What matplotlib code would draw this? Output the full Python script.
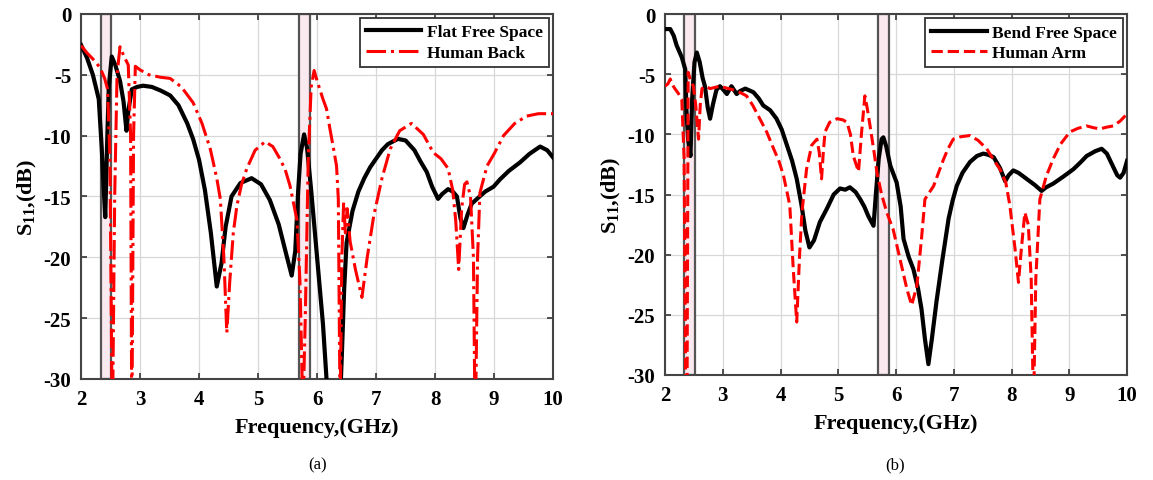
import matplotlib
matplotlib.use('Agg')
import matplotlib.pyplot as plt

plt.rcParams['font.family'] = ['Liberation Serif', 'DejaVu Serif']
plt.rcParams['mathtext.default'] = 'regular'
plt.rcParams['axes.unicode_minus'] = False

# (a) flat antenna in free space
flat_f = [2.00, 2.10, 2.20, 2.30, 2.35, 2.38, 2.41, 2.44, 2.47, 2.52, 2.58, 2.66, 2.72, 2.77, 2.80,
          2.86, 2.95, 3.05, 3.20, 3.35, 3.51, 3.65, 3.80, 3.90, 4.00, 4.10, 4.20, 4.30, 4.38, 4.45,
          4.55, 4.70, 4.89, 5.05, 5.20, 5.35, 5.48, 5.57, 5.63, 5.68, 5.72, 5.78, 5.83, 5.90, 6.00,
          6.10, 6.16, 6.22, 6.30, 6.38, 6.42, 6.46, 6.50, 6.60, 6.70, 6.80, 6.90, 7.00, 7.10, 7.20,
          7.37, 7.50, 7.65, 7.75, 7.86, 7.95, 8.05, 8.12, 8.22, 8.30, 8.37, 8.43, 8.48, 8.55, 8.62,
          8.71, 8.85, 8.99, 9.10, 9.25, 9.44, 9.60, 9.78, 9.90, 10.0]
flat_s = [-2.55, -3.6, -5.0, -7.0, -11, -14, -16.7, -11, -6, -3.5, -4.2, -5.5, -7.2, -9.6, -8,
          -6.2, -6.0, -5.9, -6.0, -6.3, -6.7, -7.5, -9.0, -10.3, -12.0, -14.5, -18.0, -22.4, -20.5, -17.5,
          -15.0, -13.9, -13.5, -14.0, -15.3, -17.3, -19.8, -21.5, -19.5, -14.5, -11.5, -9.9, -11.0, -14.5, -20.0,
          -25.5, -30, -34, -37, -33, -28.0, -22.5, -18.8, -16.2, -14.6, -13.5, -12.6, -11.9, -11.2, -10.7,
          -10.27, -10.4, -11.2, -12.1, -13.0, -14.2, -15.2, -14.8, -14.4, -14.6, -15.0, -16.8, -17.6, -16.5, -15.6,
          -15.2, -14.6, -14.2, -13.6, -12.9, -12.2, -11.5, -10.9, -11.2, -11.8]

# (a) on human back
back_f = [2.00, 2.10, 2.20, 2.32, 2.40, 2.45, 2.49, 2.53, 2.57, 2.61, 2.66, 2.72, 2.80, 2.84, 2.86,
          2.89, 2.92, 3.00, 3.15, 3.34, 3.51, 3.70, 3.90, 4.05, 4.19, 4.30, 4.36, 4.42, 4.47, 4.52,
          4.58, 4.64, 4.72, 4.81, 4.95, 5.12, 5.25, 5.37, 5.46, 5.54, 5.62, 5.66, 5.71, 5.76, 5.80,
          5.85, 5.90, 5.95, 6.00, 6.10, 6.16, 6.22, 6.28, 6.33, 6.36, 6.39, 6.42, 6.45, 6.48, 6.51,
          6.56, 6.65, 6.76, 6.85, 6.96, 7.10, 7.24, 7.40, 7.60, 7.80, 7.97, 8.10, 8.22, 8.30, 8.35,
          8.40, 8.45, 8.50, 8.54, 8.60, 8.65, 8.68, 8.72, 8.76, 8.88, 9.00, 9.16, 9.35, 9.55, 9.75, 10.0]
back_s = [-2.6, -3.2, -3.7, -4.4, -5.3, -6.2, -12, -35, -15, -5.0, -2.7, -3.4, -4.2, -10, -35,
          -10, -4.3, -4.6, -5.0, -5.2, -5.3, -6.0, -7.3, -9.0, -11.1, -13.5, -15.2, -20, -26.2, -22,
          -18, -15.8, -14, -12.7, -11.2, -10.5, -10.9, -11.9, -12.8, -14.1, -16.0, -17.0, -22, -33, -25,
          -12, -6, -4.65, -5.5, -7.0, -7.8, -9.5, -11.1, -12.5, -15.2, -33, -20, -15.5, -18, -16.0,
          -18.7, -21, -23.3, -20, -16.6, -13.5, -11.1, -9.6, -9.0, -9.9, -11.4, -11.9, -12.7, -14.5, -17,
          -21, -16, -14, -13.8, -15, -20, -35, -20, -14.7, -12.5, -11.5, -10.0, -9.0, -8.4, -8.2, -8.2]

# (b) bent antenna in free space
bend_f = [2.00, 2.09, 2.15, 2.20, 2.29, 2.35, 2.37, 2.40, 2.44, 2.47, 2.51, 2.55, 2.60, 2.65, 2.69,
          2.74, 2.78, 2.83, 2.89, 2.95, 3.01, 3.07, 3.15, 3.24, 3.30, 3.39, 3.53, 3.62, 3.70, 3.82,
          3.93, 4.02, 4.11, 4.20, 4.28, 4.36, 4.43, 4.50, 4.58, 4.68, 4.80, 4.92, 5.03, 5.12, 5.20,
          5.30, 5.38, 5.45, 5.52, 5.61, 5.65, 5.70, 5.75, 5.78, 5.83, 5.90, 6.01, 6.08, 6.13, 6.22,
          6.30, 6.38, 6.44, 6.50, 6.56, 6.62, 6.70, 6.80, 6.91, 6.98, 7.05, 7.15, 7.28, 7.40, 7.51,
          7.60, 7.69, 7.80, 7.89, 7.95, 8.03, 8.12, 8.26, 8.40, 8.52, 8.60, 8.72, 8.90, 9.07, 9.20,
          9.30, 9.45, 9.56, 9.65, 9.76, 9.83, 9.88, 9.94, 10.0]
bend_s = [-1.25, -1.25, -1.8, -2.6, -3.6, -4.6, -8, -10.5, -11.8, -7, -4.0, -3.2, -4.0, -5.3, -6.0,
          -7.8, -8.7, -7.5, -6.3, -6.0, -6.3, -6.65, -6.0, -6.65, -6.4, -6.2, -6.5, -7.0, -7.6, -8.0,
          -8.7, -9.6, -10.9, -12.2, -13.7, -15.8, -18.0, -19.4, -18.8, -17.3, -16.2, -15.0, -14.5, -14.6, -14.4,
          -14.8, -15.4, -16.0, -16.8, -17.6, -15, -12, -10.4, -10.25, -11, -12.6, -14.0, -16, -18.7, -20.2,
          -21.2, -22.8, -24.5, -27, -29.1, -27, -23.9, -20.5, -17.0, -15.5, -14.3, -13.2, -12.3, -11.8, -11.6,
          -11.7, -11.9, -12.8, -13.9, -13.4, -13.0, -13.2, -13.7, -14.2, -14.7, -14.4, -14.1, -13.5, -12.9, -12.3,
          -11.8, -11.4, -11.2, -11.6, -12.7, -13.4, -13.6, -13.2, -12.2]

# (b) on human arm
arm_f = [2.00, 2.05, 2.09, 2.13, 2.17, 2.23, 2.29, 2.33, 2.36, 2.38, 2.40, 2.44, 2.49, 2.53, 2.58,
         2.61, 2.64, 2.70, 2.78, 2.86, 2.95, 3.10, 3.25, 3.41, 3.52, 3.64, 3.76, 3.88, 3.97, 4.05,
         4.16, 4.22, 4.28, 4.33, 4.37, 4.45, 4.54, 4.63, 4.67, 4.71, 4.74, 4.77, 4.85, 4.98, 5.08,
         5.15, 5.21, 5.26, 5.35, 5.40, 5.46, 5.50, 5.55, 5.62, 5.67, 5.75, 5.84, 5.95, 6.07, 6.19,
         6.27, 6.36, 6.44, 6.50, 6.58, 6.65, 6.75, 6.82, 6.90, 6.99, 7.12, 7.28, 7.42, 7.57, 7.70,
         7.80, 7.90, 7.97, 8.06, 8.12, 8.17, 8.23, 8.29, 8.34, 8.38, 8.42, 8.49, 8.60, 8.72, 8.85,
         9.01, 9.15, 9.30, 9.42, 9.53, 9.65, 9.76, 9.88, 10.0]
arm_s = [-6.0, -5.8, -5.4, -5.9, -6.2, -6.6, -7.1, -12, -33, -33, -4.85, -5.5, -6.0, -7.5, -10.4,
         -7.5, -6.2, -6.0, -6.2, -6.1, -6.0, -6.2, -6.4, -6.8, -7.6, -8.7, -9.8, -11.2, -12.2, -13.4,
         -15.9, -21.2, -25.6, -20, -16.5, -12.9, -10.9, -10.4, -11.5, -13.7, -11.5, -9.8, -9.0, -8.7, -8.8,
         -9.0, -10, -11.8, -13.1, -10, -6.8, -7.8, -9.3, -11.5, -13.2, -15, -16.5, -17.9, -20.4, -22.9,
         -24.2, -22.6, -18.7, -15.4, -14.8, -14.3, -13.0, -12.1, -11.2, -10.4, -10.2, -10.1, -10.5, -11.2, -12.2,
         -12.9, -14.0, -15.9, -19.5, -22.3, -19.5, -16.5, -17.5, -22, -33, -22, -15.4, -13.5, -12.05, -10.8,
         -9.8, -9.5, -9.3, -9.45, -9.55, -9.4, -9.3, -8.9, -8.3]

bands = [(2.33, 2.51), (5.69, 5.88)]
xticks = [2, 3, 4, 5, 6, 7, 8, 9, 10]
yticks = [0, -5, -10, -15, -20, -25, -30]

fig = plt.figure(figsize=(11.53, 4.81), dpi=100)
ax1 = fig.add_axes([0.0703, 0.21, 0.4094, 0.759])
ax2 = fig.add_axes([0.5768, 0.2183, 0.4007, 0.7505])


def style_axes(ax):
    for b0, b1 in bands:
        ax.axvspan(b0, b1, facecolor='#fbe9f0', edgecolor='#555555', linewidth=1.6, zorder=1)
    ax.set_xlim(2, 10)
    ax.set_ylim(-30, 0)
    ax.set_xticks(xticks)
    ax.set_yticks(yticks)
    ax.grid(True, color='#d8d8d8', linewidth=0.9)
    ax.set_axisbelow(True)
    ax.tick_params(direction='in', top=True, right=True, length=4, width=1.2,
                   colors='#333333', labelcolor='black', labelsize=15, pad=7)
    for lab in ax.get_xticklabels() + ax.get_yticklabels():
        lab.set_fontweight('bold')
    for sp in ax.spines.values():
        sp.set_color('#444444')
        sp.set_linewidth(1.5)
    ax.set_xlabel('Frequency,(GHz)', fontsize=16, fontweight='bold', labelpad=6)
    ax.set_ylabel('S$_{11}$,(dB)', fontsize=16, fontweight='bold', labelpad=3)
    leg = ax.legend(loc='upper right', fancybox=False, edgecolor='#333333', framealpha=1,
                    prop={'weight': 'bold', 'size': 12.5}, handlelength=3.2,
                    borderaxespad=0.25, labelspacing=0.25, handletextpad=0.3, borderpad=0.35)
    leg.get_frame().set_linewidth(1.3)


ax1.plot(flat_f, flat_s, color='black', linewidth=3.0, label='Flat Free Space', zorder=3)
ax1.plot(back_f, back_s, color='red', linewidth=2.2, linestyle='-.', label='Human Back', zorder=3)
style_axes(ax1)

ax2.plot(bend_f, bend_s, color='black', linewidth=3.0, label='Bend Free Space', zorder=3)
ax2.plot(arm_f, arm_s, color='red', linewidth=2.2, linestyle='--', label='Human Arm', zorder=3)
style_axes(ax2)

fig.text(0.275, 0.033, '(a)', ha='center', va='center', fontsize=12)
fig.text(0.776, 0.033, '(b)', ha='center', va='center', fontsize=12)

fig.savefig('out.png', dpi=100)
